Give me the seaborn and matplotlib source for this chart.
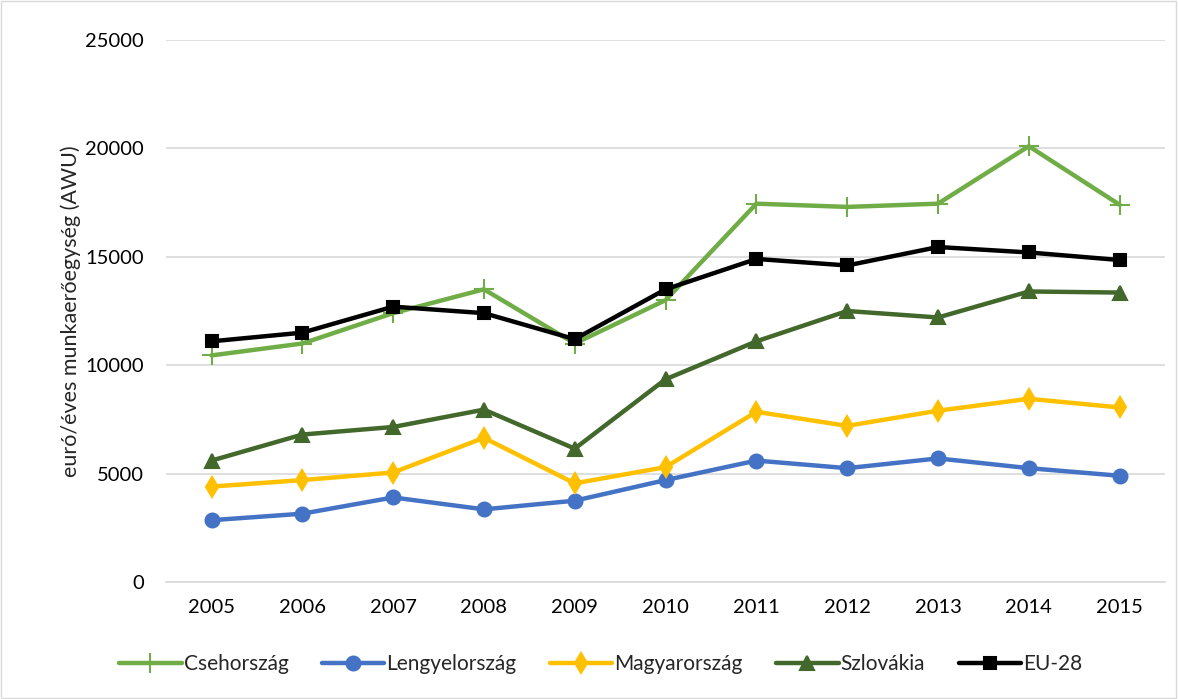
import matplotlib
matplotlib.use("Agg")
import matplotlib.pyplot as plt
import seaborn as sns
import pandas as pd

years = ["2005", "2006", "2007", "2008", "2009", "2010", "2011", "2012", "2013", "2014", "2015"]
csehorszag = [10450, 11000, 12400, 13500, 11000, 13000, 17450, 17300, 17450, 20100, 17400]
lengyelorszag = [2850, 3150, 3900, 3350, 3750, 4700, 5600, 5250, 5700, 5250, 4900]
magyarorszag = [4400, 4700, 5050, 6650, 4550, 5300, 7850, 7200, 7900, 8450, 8050]
szlovakia = [5600, 6800, 7150, 7950, 6150, 9350, 11100, 12500, 12200, 13400, 13350]
eu28 = [11100, 11500, 12700, 12400, 11200, 13500, 14900, 14600, 15450, 15200, 14850]

series = ["Csehország", "Lengyelország", "Magyarország", "Szlovákia", "EU-28"]
values = [csehorszag, lengyelorszag, magyarorszag, szlovakia, eu28]
colors = ["#70AD47", "#4472C4", "#FFC000", "#43682B", "#000000"]
markers = ["+", "o", "d", "^", "s"]
msizes = [14, 10, 10, 10, 8]

rows = []
for s, v in zip(series, values):
    for y, val in zip(years, v):
        rows.append({"year": y, "value": val, "series": s})
df = pd.DataFrame(rows)

sns.set_theme(style="white")
plt.rcParams["font.family"] = ["Lato", "DejaVu Sans"]

fig = plt.figure(figsize=(11.78, 6.99), dpi=100)
ax = fig.add_axes([0.141, 0.1674, 0.848, 0.7754])

for s, c, m, ms in zip(series, colors, markers, msizes):
    sub = df[df["series"] == s]
    sns.lineplot(data=sub, x="year", y="value", ax=ax, color=c, linewidth=3.2,
                 marker=m, markersize=ms, markeredgewidth=1.5,
                 markeredgecolor=c, label=s, sort=False)

ax.set_xlim(-0.5, len(years) - 0.5)
ax.set_ylim(0, 25000)
ax.set_yticks(range(0, 25001, 5000))
ax.yaxis.grid(True, color="#D9D9D9", linewidth=1.2)
ax.xaxis.grid(False)
for sp in ["top", "right", "left"]:
    ax.spines[sp].set_visible(False)
ax.spines["bottom"].set_color("#D9D9D9")
ax.spines["bottom"].set_linewidth(1.2)
ax.tick_params(axis="both", labelsize=14.5, colors="#000000", length=0)
ax.tick_params(axis="y", pad=16)
ax.tick_params(axis="x", pad=12)
ax.set_xlabel("")
ax.set_ylabel("euró/éves munkaerőegység (AWU)", fontsize=15.5, labelpad=3)

h, l = ax.get_legend_handles_labels()
ax.legend(h, l, loc="center", bbox_to_anchor=(0.435, -0.152), ncol=5, frameon=False,
          fontsize=15, handlelength=3.0, handletextpad=0.1, columnspacing=1.6)

fig.patches.append(matplotlib.patches.Rectangle((0.001, 0.001), 0.997, 0.997, transform=fig.transFigure,
                                                fill=False, edgecolor="#D9D9D9", linewidth=1))
fig.savefig("out.png", dpi=100)
